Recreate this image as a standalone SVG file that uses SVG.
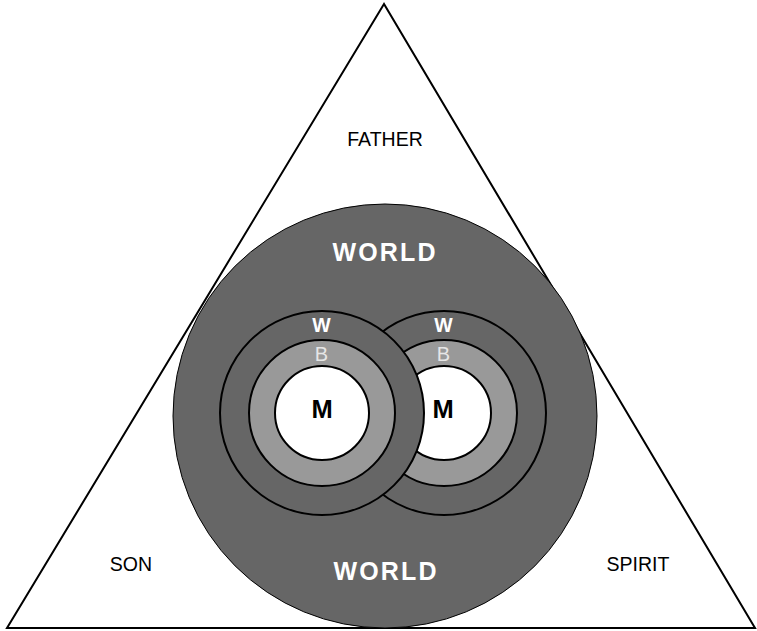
<svg xmlns="http://www.w3.org/2000/svg" width="757" height="631" viewBox="0 0 757 631">
<style>
.lbl{font-family:"Liberation Sans",Arial,sans-serif;font-size:19.5px;fill:#000;text-anchor:middle}
.world{font-family:"Liberation Sans",Arial,sans-serif;font-size:25px;font-weight:bold;fill:#fff;text-anchor:middle}
.w{font-family:"Liberation Sans",Arial,sans-serif;font-size:19.5px;font-weight:bold;fill:#fff;text-anchor:middle}
.b{font-family:"Liberation Sans",Arial,sans-serif;font-size:20px;fill:#e6e6e6;text-anchor:middle}
.m{font-family:"Liberation Sans",Arial,sans-serif;font-size:25.5px;font-weight:bold;fill:#000;text-anchor:middle}
.outer{fill:#666;stroke:#000;stroke-width:2}
.mid{fill:#999;stroke:#000;stroke-width:2}
.inner{fill:#fff;stroke:#000;stroke-width:2}
</style>
<rect width="757" height="631" fill="#fff"/>
<g id="triangle">
<polygon points="384,4 7,628 755,628" fill="none" stroke="#000" stroke-width="2" stroke-linejoin="miter"/>
<text class="lbl" x="385" y="145.5">FATHER</text>
<text class="lbl" x="131" y="570.5">SON</text>
<text class="lbl" x="638" y="570.5">SPIRIT</text>
</g>
<g id="world">
<circle cx="385" cy="416" r="212" fill="#666" stroke="#000" stroke-width="1"/>
<text class="world" x="384" y="261" textLength="103" lengthAdjust="spacing">WORLD</text>
<text class="world" x="385" y="580" textLength="103" lengthAdjust="spacing">WORLD</text>
</g>
<g id="person-right">
<circle class="outer" cx="444" cy="413" r="102"/>
<circle class="mid" cx="444" cy="413" r="73"/>
<circle class="inner" cx="444" cy="413" r="47"/>
<text class="w" x="443.5" y="332">W</text>
<text class="b" x="443.5" y="361">B</text>
<text class="m" x="443" y="418">M</text>
</g>
<g id="person-left">
<circle class="outer" cx="322" cy="413" r="102"/>
<circle class="mid" cx="322" cy="413" r="73"/>
<circle class="inner" cx="322" cy="413" r="47"/>
<text class="w" x="321.5" y="332">W</text>
<text class="b" x="321.5" y="361">B</text>
<text class="m" x="322" y="418">M</text>
</g>
<g id="connectors"/>
</svg>
